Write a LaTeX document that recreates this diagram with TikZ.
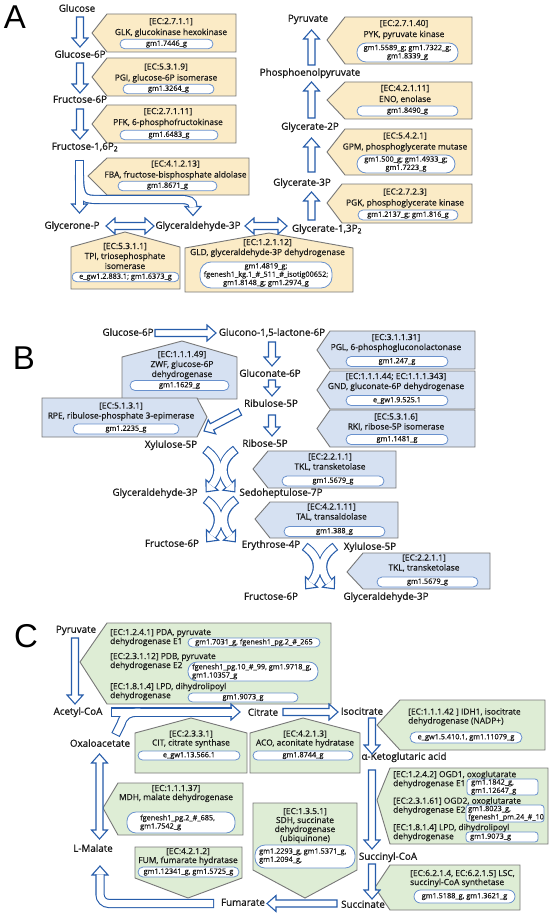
\documentclass[tikz,border=0pt]{standalone}
\usepackage{fontspec}
\setmainfont{Open Sans}[FakeBold=0.5]
\newfontfamily\lblfont{Open Sans}[FakeBold=0.9]
\newfontfamily\bigletter{Liberation Sans}
\usetikzlibrary{calc}
\definecolor{arrblue}{RGB}{38,92,170}
\definecolor{yfill}{RGB}{251,235,198}
\definecolor{bfill}{RGB}{214,225,242}
\definecolor{gfill}{RGB}{222,237,213}
\definecolor{bordergray}{RGB}{120,120,120}
\definecolor{pillline}{RGB}{105,145,205}
\definecolor{txt}{RGB}{25,25,25}
\tikzset{
 lbl/.style={font=\lblfont\fontsize{9.8}{12}\selectfont, inner sep=0pt, text height=7.5pt, text depth=2pt, text=txt},
 big/.style={font=\bigletter\fontsize{33}{33}\selectfont, inner sep=0pt},
 etA/.style={font=\fontsize{8.4}{11}\selectfont, inner sep=0pt, align=center, text=txt},
 etB/.style={font=\fontsize{8.4}{10}\selectfont, inner sep=0pt, align=center, text=txt},
 etC/.style={font=\fontsize{8.4}{9}\selectfont, inner sep=0pt, align=left, text=txt},
 ptx/.style={font=\fontsize{7.3}{8.3}\selectfont, inner sep=0pt, align=left, text=txt},
 pillst/.style={draw=pillline, fill=white, line width=0.8pt, inner sep=0pt, align=center, font=\fontsize{7.3}{8.3}\selectfont, text=txt},
 enz/.style={draw=bordergray, line width=0.9pt, line join=miter},
 yb/.style={fill=yfill}, bb/.style={fill=bfill}, gb/.style={fill=gfill},
 arr/.style={draw=arrblue, fill=white, line width=1.1pt, line join=miter},
 shout/.style={draw=arrblue, line width=9.2pt, shorten <=-1.1pt, shorten >=-0.6pt},
 shin/.style={draw=white, line width=7pt, shorten >=-0.6pt},
}
% block arrow between two points
\newcommand\blkarrow[2]{%
  \path #1 coordinate (bA) #2 coordinate (bB);%
  \pgfpointdiff{\pgfpointanchor{bA}{center}}{\pgfpointanchor{bB}{center}}%
  \pgfgetlastxy{\bdx}{\bdy}%
  \pgfmathsetmacro{\bang}{atan2(\bdy,\bdx)}%
  \pgfmathsetmacro{\blen}{veclen(\bdx,\bdy)}%
  \pgfmathsetmacro{\bhb}{\blen-9}%
  \draw[arr, shift={(bA)}, rotate=\bang] (0pt,3.5pt) -- (\bhb pt,3.5pt) -- (\bhb pt,8pt) -- (\blen pt,0pt) -- (\bhb pt,-8pt) -- (\bhb pt,-3.5pt) -- (0pt,-3.5pt) -- cycle;%
}
\newcommand\dblkarrow[2]{%
  \path #1 coordinate (bA) #2 coordinate (bB);%
  \pgfpointdiff{\pgfpointanchor{bA}{center}}{\pgfpointanchor{bB}{center}}%
  \pgfgetlastxy{\bdx}{\bdy}%
  \pgfmathsetmacro{\bang}{atan2(\bdy,\bdx)}%
  \pgfmathsetmacro{\blen}{veclen(\bdx,\bdy)}%
  \pgfmathsetmacro{\bhb}{\blen-9}%
  \draw[arr, shift={(bA)}, rotate=\bang] (0pt,0pt) -- (9pt,8pt) -- (9pt,3.5pt) -- (\bhb pt,3.5pt) -- (\bhb pt,8pt) -- (\blen pt,0pt) -- (\bhb pt,-8pt) -- (\bhb pt,-3.5pt) -- (9pt,-3.5pt) -- (9pt,-8pt) -- cycle;%
}
\newcommand\arrhead[3]{\draw[arr, shift={(#1,#2)}, rotate=#3] (0pt,0pt) -- (-9pt,8pt) -- (-9pt,-8pt) -- cycle;}
% crossing curved arrows centred at (#1,#2)
\newcommand\crossarr[2]{%
  \arrhead{#1-14.36}{#2+19.83}{-130.6}
  \arrhead{#1+14.36}{#2+19.83}{-49.4}
  \draw[shout] (#1-14.5,#2-22) .. controls (#1+3.5,#2-9) and (#1-2.5,#2+6) .. (#1-8.5,#2+13);
  \draw[shout] (#1+14.5,#2-22) .. controls (#1-3.5,#2-9) and (#1+2.5,#2+6) .. (#1+8.5,#2+13);
  \draw[shin] (#1-14.5,#2-22) .. controls (#1+3.5,#2-9) and (#1-2.5,#2+6) .. (#1-8.5,#2+13);
  \draw[shin] (#1+14.5,#2-22) .. controls (#1-3.5,#2-9) and (#1+2.5,#2+6) .. (#1+8.5,#2+13);
}
% enzyme boxes
\newcommand\encL[7]{\draw[enz,#1] (#2,#3) -- (#4,#6) -- (#5,#6) -- (#5,#7) -- (#4,#7) -- cycle;}
\newcommand\encR[7]{\draw[enz,#1] (#2,#6) -- (#3,#6) -- (#4,#5) -- (#3,#7) -- (#2,#7) -- cycle;}
\newcommand\encU[7]{\draw[enz,#1] (#2,#7) -- (#2,#6) -- (#4,#5) -- (#3,#6) -- (#3,#7) -- cycle;}
\newcommand\encD[7]{\draw[enz,#1] (#2,#7) -- (#3,#7) -- (#3,#6) -- (#4,#5) -- (#2,#6) -- cycle;}
\newcommand\pill[7]{\node[pillst, minimum width=#4pt, minimum height=#5pt, rounded corners=#6pt] (#1) at (#2,#3) {#7};}

\begin{document}
\begin{tikzpicture}[x=1pt,y=-1pt]
\useasboundingbox (0,0) rectangle (550,915);
\fill[white] (0,0) rectangle (550,915);

%================ PANEL A ================
\node[big] (lA) at (15,17) {A};
% boxes
\encL{yb}{92}{33}{107}{236}{14}{52}
\node[etA] (tglk) at (171,27.5) {[EC:2.7.1.1]\\GLK, glucokinase hexokinase};
\pill{pglk}{166.5}{44}{93}{9.5}{4.75}{gm1.7446\_g}
\encL{yb}{92}{77}{107}{236}{58}{96}
\node[etA] (tpgi) at (166,73) {[EC:5.3.1.9]\\PGI, glucose-6P isomerase};
\pill{ppgi}{168.5}{89}{91}{9.5}{4.75}{gm1.3264\_g}
\encL{yb}{92}{124}{107}{236}{105}{143}
\node[etA] (tpfk) at (168,117.5) {[EC:2.7.1.11]\\PFK, 6-phosphofructokinase};
\pill{ppfk}{169}{135}{98}{9.5}{4.75}{gm1.6483\_g}
\encL{yb}{88}{176}{107}{249}{158}{195}
\node[etA] (tfba) at (175.5,170) {[EC:4.1.2.13]\\FBA, fructose-bisphosphate aldolase};
\pill{pfba}{167.5}{186}{99}{9.5}{4.75}{gm1.8671\_g}
\encU{yb}{71}{180}{125}{232}{247}{289}
\node[etB] (ttpi) at (125,256) {[EC:5.3.1.1]\\TPI, triosephosphate\\isomerase};
\pill{ptpi}{125.5}{277}{107}{9.5}{4.75}{e\_gw1.2.883.1; gm1.6373\_g}
\encU{yb}{185}{353}{269}{233}{248}{292}
\node[etB] (tgld) at (267.5,248) {[EC:1.2.1.12]\\GLD, glyceraldehyde-3P dehydrogenase};
\pill{pgld}{266}{275}{132}{26}{11}{gm1.4819\_g;\\fgenesh1\_kg.1\_\#\_511\_\#\_isotig00652;\\gm1.8148\_g; gm1.2974\_g}
\encL{yb}{327}{40}{345}{472}{17}{64}
\node[etA] (tpyk) at (404,29.5) {[EC:2.7.1.40]\\PYK, pyruvate kinase};
\pill{ppyk}{407.5}{52.5}{101}{19}{9}{gm1.5589\_g; gm1.7322\_g;\\gm1.8339\_g}
\encL{yb}{327}{100}{345}{472}{82}{119}
\node[etA] (teno) at (405,94) {[EC:4.2.1.11]\\ENO, enolase};
\pill{peno}{407.5}{111}{101}{10}{5}{gm1.8490\_g}
\encL{yb}{327}{152}{345}{472}{129}{175}
\node[etA] (tgpm) at (405,142) {[EC:5.4.2.1]\\GPM, phosphoglycerate mutase};
\pill{pgpm}{406}{164}{98}{18}{9}{gm1.500\_g; gm1.4933\_g;\\gm1.7223\_g}
\encL{yb}{327}{203}{342}{472}{184}{223}
\node[etA] (tpgk) at (405,198) {[EC:2.7.2.3]\\PGK, phosphoglycerate kinase};
\pill{ppgk}{408}{215}{100}{10}{5}{gm1.2137\_g; gm1.816\_g}
% labels
\node[lbl] (glc) at (77,9) {Glucose};
\node[lbl] (g6p) at (80,55) {Glucose-6P};
\node[lbl] (f6p) at (80,100) {Fructose-6P};
\node[lbl] (f16) at (85,147) {Fructose-1,6P\textsubscript{2}};
\node[lbl] (dhap) at (72,226) {Glycerone-P};
\node[lbl] (gap) at (198,226) {Glyceraldehyde-3P};
\node[lbl] (bpg) at (327,229) {Glycerate-1,3P\textsubscript{2}};
\node[lbl] (pg3) at (302,183) {Glycerate-3P};
\node[lbl] (pg2) at (310,127) {Glycerate-2P};
\node[lbl] (pep) at (310,73) {Phosphoenolpyruvate};
\node[lbl] (pyr) at (308,19) {Pyruvate};
% arrows
\blkarrow{($(glc)+(3,8)$)}{($(g6p)+(0,-8)$)}
\blkarrow{($(g6p)+(0,8)$)}{($(f6p)+(0,-7)$)}
\blkarrow{($(f6p)+(0,9)$)}{($(f16)+(-5,-8)$)}
\arrhead{79.5}{213}{-90}
\arrhead{193}{215.5}{-90}
\draw[shout] ($(f16)+(-5.5,14)$) -- (79.5,204);
\draw[shout] (79.5,176) .. controls (79.5,199.5) and (84,199.5) .. (100,199.5) -- (180,199.5) .. controls (189,199.5) and (193,201) .. (193,206.5);
\draw[shin] ($(f16)+(-5.5,14)$) -- (79.5,204);
\draw[shin] (79.5,176) .. controls (79.5,199.5) and (84,199.5) .. (100,199.5) -- (180,199.5) .. controls (189,199.5) and (193,201) .. (193,206.5);
\dblkarrow{($(dhap)+(34,0)$)}{($(gap)+(-44,0)$)}
\dblkarrow{($(gap)+(47,0)$)}{($(bpg)+(-40,-3)$)}
\blkarrow{($(bpg)+(-15.5,-9)$)}{($(pg3)+(9.5,9)$)}
\blkarrow{($(pg3)+(9.5,-11)$)}{($(pg2)+(1.5,11)$)}
\blkarrow{($(pg2)+(1.5,-9)$)}{($(pep)+(1.5,9)$)}
\blkarrow{($(pep)+(1.5,-8)$)}{($(pyr)+(3.5,11)$)}

%================ PANEL B ================
\node[big] (lB) at (24,358) {B};
\encU{bb}{122}{237}{182}{341}{357}{399}
\node[etB] (tzwf) at (182,365) {[EC:1.1.1.49]\\ZWF, glucose-6P\\dehydrogenase};
\pill{pzwf}{179.5}{385.5}{99}{10}{5}{gm1.1629\_g}
\encR{bb}{42}{197}{207}{417}{398}{437}
\node[etB] (trpe) at (121,411.5) {[EC:5.1.3.1]\\RPE, ribulose-phosphate 3-epimerase};
\pill{prpe}{126}{429}{106}{10}{5}{gm1.2235\_g}
\encL{bb}{317}{350}{330}{475}{331}{369}
\node[etB] (tpgl) at (396,343) {[EC:3.1.1.31]\\PGL, 6-phosphogluconolactonase};
\pill{ppgl}{397}{361.5}{102}{10}{5}{gm1.247\_g}
\encL{bb}{317}{390}{330}{475}{371}{409}
\node[etB] (tgnd) at (396,382) {[EC:1.1.1.44; EC:1.1.1.343]\\GND, gluconate-6P dehydrogenase};
\pill{pgnd}{397}{400.5}{102}{10}{5}{e\_gw1.9.525.1}
\encL{bb}{317}{428.5}{330}{475}{410}{447}
\node[etB] (trki) at (396,422) {[EC:5.3.1.6]\\RKI, ribose-5P isomerase};
\pill{prki}{397}{439.5}{102}{10}{5}{gm1.1481\_g}
\encL{bb}{253}{469}{268}{396}{451}{488}
\node[etB] (ttkl) at (330,462) {[EC:2.2.1.1]\\TKL, transketolase};
\pill{ptkl}{333}{481}{102}{10}{5}{gm1.5679\_g}
\encL{bb}{255}{519}{270}{398}{502}{538}
\node[etB] (ttal) at (331.5,512) {[EC:4.2.1.11]\\TAL, transaldolase};
\pill{ptal}{334.5}{531.5}{101}{10}{5}{gm1.388\_g}
\encL{bb}{347}{572}{363}{490}{553}{589}
\node[etB] (ttklb) at (424,563) {[EC:2.2.1.1]\\TKL, transketolase};
\pill{ptklb}{427.5}{582}{101}{10}{5}{gm1.5679\_g}
% labels
\node[lbl] (g6pB) at (128,333) {Glucose-6P};
\node[lbl] (glnl) at (272,333) {Glucono-1,5-lactone-6P};
\node[lbl] (glcn) at (270,374) {Gluconate-6P};
\node[lbl] (ru5p) at (271,404) {Ribulose-5P};
\node[lbl] (r5p) at (265,444) {Ribose-5P};
\node[lbl] (xu5p) at (171,445) {Xylulose-5P};
\node[lbl] (gapB) at (155,493) {Glyceraldehyde-3P};
\node[lbl] (s7p) at (281,493) {Sedoheptulose-7P};
\node[lbl] (f6pB) at (172,544) {Fructose-6P};
\node[lbl] (e4p) at (271,545) {Erythrose-4P};
\node[lbl] (xu5pB) at (370,547) {Xylulose-5P};
\node[lbl] (f6pC) at (271,597) {Fructose-6P};
\node[lbl] (gapC) at (386,597) {Glyceraldehyde-3P};
% arrows
\blkarrow{($(g6pB)+(27,0)$)}{($(glnl)+(-56,0)$)}
\blkarrow{($(glnl)+(0,9)$)}{($(glcn)+(2,-8)$)}
\blkarrow{($(glcn)+(2,6)$)}{($(ru5p)+(1,-8)$)}
\blkarrow{($(ru5p)+(1,11)$)}{($(r5p)+(7,-8)$)}
\blkarrow{($(ru5p)+(-31,8)$)}{($(xu5p)+(33,-14)$)}
\crossarr{220.5}{472}
\crossarr{221}{522}
\crossarr{320}{569}

%================ PANEL C ================
\node[big] (lC) at (26,636) {C};
\encL{gb}{80}{662}{107}{331}{623}{704}
\node[etC, anchor=west] (tpda) at (110,637.5) {[EC:1.2.4.1] PDA, pyruvate\\dehydrogenase E1};
\pill{ppda}{254}{642.5}{132}{9}{4.5}{gm1.7031\_g, fgenesh1\_pg.2\_\#\_265}
\node[etC, anchor=west] (tpdb) at (110,661.5) {[EC:2.3.1.12] PDB, pyruvate\\dehydrogenase E2};
\pill{ppdb}{253}{671.5}{130}{19}{9}{}
\node[ptx, anchor=west] (gpdb) at (192,671.5) {fgenesh1\_pg.10\_\#\_99, gm1.9718\_g,\\gm1.10357\_g};
\node[etC, anchor=west] (tlpd) at (110,691.5) {[EC:1.8.1.4] LPD, dihydrolipoyl\\dehydrogenase};
\pill{plpd}{243}{697.5}{110}{9}{4.5}{gm1.9073\_g}
\encU{gb}{135}{247}{191}{718}{733}{773}
\node[etC, align=center] (tcit) at (191,739) {[EC:2.3.3.1]\\CIT, citrate synthase};
\pill{pcit}{189}{755.5}{102}{9}{4.5}{e\_gw1.13.566.1}
\encU{gb}{250}{360}{303}{718}{733}{773}
\node[etC, align=center] (taco) at (305,739) {[EC:4.2.1.3]\\ACO, aconitate hydratase};
\pill{paco}{303}{755.5}{100}{9}{4.5}{gm1.8744\_g}
\encL{gb}{377}{725}{400}{545}{700}{750}
\node[etC, anchor=west] (tidh) at (408,717) {[EC:1.1.1.42 ] IDH1, isocitrate\\dehydrogenase (NADP+)};
\pill{pidh}{466}{737.5}{112}{11}{5.5}{e\_gw1.5.410.1, gm1.11079\_g}
\encL{gb}{377}{800}{390}{548}{768}{844}
\node[etC, anchor=west] (togd1) at (393,779.5) {[EC:1.2.4.2] OGD1, oxoglutarate\\dehydrogenase E1};
\pill{pogd1}{502.5}{787}{71}{16}{3}{}
\node[ptx, anchor=west] (gogd1) at (471,787) {gm1.1842\_g,\\gm1.12647\_g};
\node[etC, anchor=west] (togd2) at (393,806) {[EC:2.3.1.61] OGD2, oxoglutarate\\dehydrogenase E2};
\pill{pogd2}{505}{813.5}{78}{17}{3}{}
\node[ptx, anchor=west] (gogd2) at (468,813.5) {gm1.8023\_g,\\fgenesh1\_pm.24\_\#\_10};
\node[etC, anchor=west] (tlpd2) at (393,832.5) {[EC:1.8.1.4] LPD, dihydrolipoyl\\dehydrogenase};
\pill{plpd2}{502}{837}{72}{10}{3}{}
\node[ptx, anchor=west] (glpd2) at (470,837) {gm1.9073\_g};
\encL{gb}{375}{887.5}{390}{520}{865}{910}
\node[etC, anchor=west] (tlsc) at (410,878.5) {[EC:6.2.1.4, EC:6.2.1.5] LSC,\\succinyl-CoA synthetase};
\pill{plsc}{464.5}{896.5}{101}{13}{6.5}{gm1.5188\_g, gm1.3621\_g}
\encD{gb}{253}{357}{305}{898}{870}{803}
\node[etC, align=center] (tsdh) at (305,825.5) {[EC:1.3.5.1]\\SDH, succinate\\dehydrogenase\\(ubiquinone)};
\pill{psdh}{305}{856.5}{100}{23}{10}{}
\node[ptx, anchor=west] (gsdh) at (259,856) {gm1.2293\_g, gm1.5371\_g,\\gm1.2094\_g,};
\encL{gb}{103}{808}{118}{243}{783}{835}
\node[etC, align=center] (tmdh) at (176,793.5) {[EC:1.1.1.37]\\MDH, malate dehydrogenase};
\pill{pmdh}{181}{822.5}{108}{21}{9}{}
\node[ptx, anchor=west] (gmdh) at (140,822.5) {fgenesh1\_pg.2\_\#\_685,\\gm1.7542\_g};
\encD{gb}{135}{242}{188}{898}{878}{847}
\node[etC, align=center] (tfum) at (188,856.5) {[EC:4.2.1.2]\\FUM, fumarate hydratase};
\pill{pfum}{188.5}{872}{101}{10}{5}{gm1.12341\_g, gm1.5725\_g}
% labels
\node[lbl] (pyrC) at (76,630) {Pyruvate};
\node[lbl] (acoa) at (78,712) {Acetyl-CoA};
\node[lbl] (oaa) at (100,744) {Oxaloacetate};
\node[lbl] (cit) at (263,713) {Citrate};
\node[lbl] (icit) at (362,712) {Isocitrate};
\node[lbl] (akg) at (404,757) {α-Ketoglutaric acid};
\node[lbl] (sca) at (388,857) {Succinyl-CoA};
\node[lbl] (suc) at (363,905) {Succinate};
\node[lbl] (fum) at (243,903) {Fumarate};
\node[lbl] (mal) at (93,849) {L-Malate};
% arrows
\blkarrow{($(pyrC)+(-1,8)$)}{($(acoa)+(-3,-8)$)}
\arrhead{240}{712}{0}
\draw[shout] ($(acoa)+(34,0)$) -- (231,712);
\draw[shout] ($(oaa)+(16,-10)$) -- (121,724) .. controls (123.5,716) and (127,712) .. (140,712);
\draw[shin] ($(acoa)+(34,0)$) -- (231,712);
\draw[shin] ($(oaa)+(16,-10)$) -- (121,724) .. controls (123.5,716) and (127,712) .. (140,712);
\blkarrow{($(cit)+(20,-1)$)}{($(icit)+(-24,0)$)}
\blkarrow{($(icit)+(10,6)$)}{($(akg)+(-32,-3)$)}
\blkarrow{($(akg)+(-32,13)$)}{($(sca)+(-16,-8)$)}
\blkarrow{($(sca)+(-16,7)$)}{($(suc)+(9,-6)$)}
\blkarrow{($(suc)+(-26,-1.5)$)}{($(fum)+(24,0.5)$)}
\arrhead{100}{866}{90}
\draw[shout, rounded corners=9pt] ($(fum)+(-30,0.5)$) -- (100,903.5) -- (100,875);
\draw[shin, rounded corners=9pt] ($(fum)+(-30,0.5)$) -- (100,903.5) -- (100,875);
\dblkarrow{($(oaa)+(-0.5,10)$)}{($(mal)+(6.5,-10)$)}
\end{tikzpicture}
\end{document}
